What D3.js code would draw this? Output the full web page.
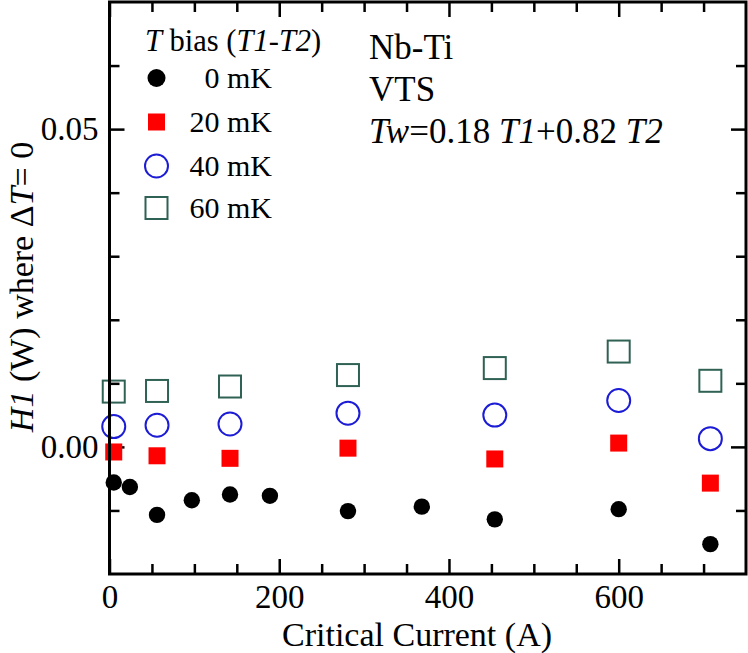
<!DOCTYPE html>
<html>
<head>
<meta charset="utf-8">
<script src="https://cdn.jsdelivr.net/npm/d3@7"></script>
<style>
  html, body { margin: 0; padding: 0; background: #ffffff; }
  svg { display: block; }
</style>
</head>
<body>
<svg id="chart" width="748" height="653"></svg>
<script>
// ---- Data ----
const current0mK = [5, 24, 56, 97, 142, 189, 281, 368, 454, 600, 708];
const h1_0mK     = [-0.0056, -0.0063, -0.0107, -0.0084, -0.0075, -0.0077, -0.0101, -0.0094, -0.0114, -0.0098, -0.0153];
const currentBias = [5, 56, 142, 281, 454, 600, 708];
const h1_20mK = [-0.0008, -0.0014, -0.0018, -0.0002, -0.0019, 0.0006, -0.0057];
const h1_40mK = [0.0032, 0.0034, 0.0036, 0.0053, 0.0050, 0.0073, 0.0013];
const h1_60mK = [0.0087, 0.0088, 0.0095, 0.0113, 0.0124, 0.0150, 0.0104];
const legendLabels = ["0 mK", "20 mK", "40 mK", "60 mK"];
const xMajorTicks = [0, 200, 400, 600];
const xMinorTicks = [50, 100, 150, 250, 300, 350, 450, 500, 550, 650, 700];
const yMajorTicks = [0, 0.05];
const yMinorTicks = [-0.01, 0.01, 0.02, 0.03, 0.04, 0.06];

// ---- Layout ----
const FONT = '"Liberation Serif"';
const svg = d3.select("#chart");
const L = 109.5, R = 746, T = 2, B = 574;
const x = d3.scaleLinear().domain([0, 750]).range([L, R]);
const y = d3.scaleLinear().domain([-0.02, 0.07]).range([B, T]);
const MAJ = 15, MIN = 10;

function styleAxis(g) {
  g.select(".domain").remove();
  g.selectAll(".tick line").attr("stroke", "#000").attr("stroke-width", 2.5);
  g.selectAll(".tick text").style("font-size", "33px").attr("fill", "#000");
}

// bottom
svg.append("g").attr("transform", `translate(0,${B})`)
  .call(d3.axisBottom(x).tickValues(xMajorTicks).tickSize(-MAJ).tickPadding(11).tickFormat(d3.format("d")))
  .call(styleAxis);
svg.append("g").attr("transform", `translate(0,${B})`)
  .call(d3.axisBottom(x).tickValues(xMinorTicks).tickSize(-MIN).tickFormat(""))
  .call(styleAxis);
// top
svg.append("g").attr("transform", `translate(0,${T})`)
  .call(d3.axisTop(x).tickValues(xMajorTicks).tickSize(-MAJ).tickFormat(""))
  .call(styleAxis);
svg.append("g").attr("transform", `translate(0,${T})`)
  .call(d3.axisTop(x).tickValues(xMinorTicks).tickSize(-MIN).tickFormat(""))
  .call(styleAxis);
// left
svg.append("g").attr("transform", `translate(${L},0)`)
  .call(d3.axisLeft(y).tickValues(yMajorTicks).tickSize(-MAJ).tickPadding(11).tickFormat(d3.format(".2f")))
  .call(styleAxis);
svg.append("g").attr("transform", `translate(${L},0)`)
  .call(d3.axisLeft(y).tickValues(yMinorTicks).tickSize(-MIN).tickFormat(""))
  .call(styleAxis);
// right
svg.append("g").attr("transform", `translate(${R},0)`)
  .call(d3.axisRight(y).tickValues(yMajorTicks).tickSize(-MAJ).tickFormat(""))
  .call(styleAxis);
svg.append("g").attr("transform", `translate(${R},0)`)
  .call(d3.axisRight(y).tickValues(yMinorTicks).tickSize(-MIN).tickFormat(""))
  .call(styleAxis);

// ---- Series ----
const BLUE = "#1c1cd6", GREEN = "#2f6254", RED = "#ff0000";
const plot = svg.append("g");

function squares(xs, ys, size, fill, stroke) {
  plot.append("g").selectAll("rect").data(xs.map((d, i) => [d, ys[i]])).join("rect")
    .attr("x", d => x(d[0]) - size / 2).attr("y", d => y(d[1]) - size / 2)
    .attr("width", size).attr("height", size)
    .attr("fill", fill).attr("stroke", stroke).attr("stroke-width", stroke === "none" ? 0 : 2);
}
function circles(xs, ys, r, fill, stroke) {
  plot.append("g").selectAll("circle").data(xs.map((d, i) => [d, ys[i]])).join("circle")
    .attr("cx", d => x(d[0])).attr("cy", d => y(d[1])).attr("r", r)
    .attr("fill", fill).attr("stroke", stroke).attr("stroke-width", stroke === "none" ? 0 : 2);
}
squares(currentBias, h1_60mK, 22, "none", GREEN);
circles(currentBias, h1_40mK, 11.5, "none", BLUE);
squares(currentBias, h1_20mK, 17, RED, "none");
circles(current0mK, h1_0mK, 8.2, "#000", "none");

// ---- Frame ----
svg.append("rect").attr("x", L).attr("y", T).attr("width", R - L).attr("height", B - T)
  .attr("fill", "none").attr("stroke", "#000").attr("stroke-width", 3);

// ---- Legend ----
const leg = svg.append("g");
const hdr = leg.append("text").attr("x", 145).attr("y", 51).style("font-size", "30.5px");
hdr.append("tspan").style("font-style", "italic").text("T");
hdr.append("tspan").text(" bias (");
hdr.append("tspan").style("font-style", "italic").text("T1-T2");
hdr.append("tspan").text(")");

const legY = [78, 122, 166, 208];
const legX = 156.5;
leg.append("circle").attr("cx", legX).attr("cy", legY[0]).attr("r", 9).attr("fill", "#000");
leg.append("rect").attr("x", legX - 8.5).attr("y", legY[1] - 8.5).attr("width", 17).attr("height", 17).attr("fill", RED);
leg.append("circle").attr("cx", legX).attr("cy", legY[2]).attr("r", 11.5).attr("fill", "none").attr("stroke", BLUE).attr("stroke-width", 2);
leg.append("rect").attr("x", legX - 11).attr("y", legY[3] - 11).attr("width", 22).attr("height", 22).attr("fill", "none").attr("stroke", GREEN).attr("stroke-width", 2);
leg.selectAll("text.lab").data(legendLabels).join("text").attr("class", "lab")
  .attr("x", 272).attr("y", (d, i) => legY[i] + 9.5)
  .attr("text-anchor", "end").style("font-size", "30px").text(d => d);

// ---- Annotation ----
const ann = svg.append("g");
ann.append("text").attr("x", 369).attr("y", 59).style("font-size", "35px").text("Nb-Ti");
ann.append("text").attr("x", 369).attr("y", 101).style("font-size", "35px").text("VTS");
const tw = ann.append("text").attr("x", 369).attr("y", 143).style("font-size", "35px");
tw.append("tspan").style("font-style", "italic").text("Tw");
tw.append("tspan").text("=0.18 ");
tw.append("tspan").style("font-style", "italic").text("T1");
tw.append("tspan").text("+0.82 ");
tw.append("tspan").style("font-style", "italic").text("T2");

// ---- Axis titles ----
svg.append("text").attr("x", 417).attr("y", 646).attr("text-anchor", "middle")
  .style("font-size", "34px").text("Critical Current (A)");

const yl = svg.append("text").attr("transform", "translate(33,287) rotate(-90)")
  .attr("text-anchor", "middle").style("font-size", "34px");
yl.append("tspan").style("font-style", "italic").text("H1");
yl.append("tspan").text(" (W) where \u0394");
yl.append("tspan").style("font-style", "italic").text("T");
yl.append("tspan").text("= 0");

// Serif font on every text
svg.selectAll("text").style("font-family", FONT).style("fill", "#000");
</script>
</body>
</html>
